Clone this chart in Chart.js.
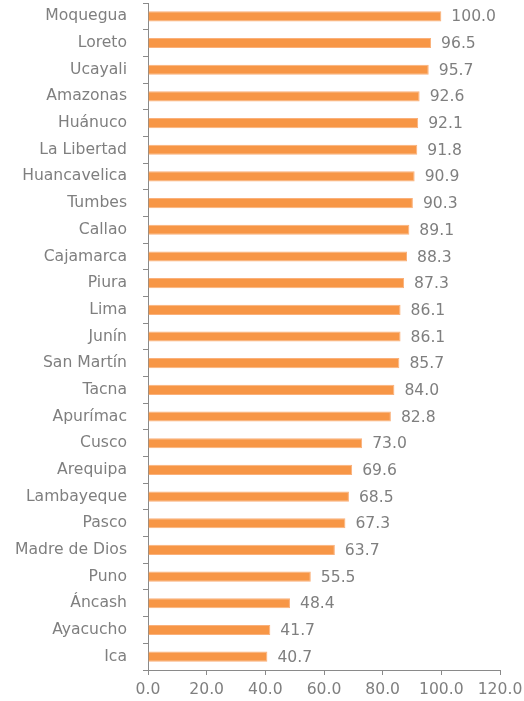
<!DOCTYPE html>
<html>
<head>
<meta charset="utf-8">
<script src="https://cdn.jsdelivr.net/npm/chart.js@4"></script>
<style>
  html, body { margin: 0; padding: 0; background: #fff; }
  #wrap { width: 524px; height: 701px; }
</style>
</head>
<body>
<div id="wrap"><canvas id="chart"></canvas></div>
<script>
const regions = ["Moquegua", "Loreto", "Ucayali", "Amazonas", "Huánuco", "La Libertad", "Huancavelica",
    "Tumbes", "Callao", "Cajamarca", "Piura", "Lima", "Junín", "San Martín", "Tacna", "Apurímac",
    "Cusco", "Arequipa", "Lambayeque", "Pasco", "Madre de Dios", "Puno", "Áncash", "Ayacucho", "Ica"];
const values = [100.0, 96.5, 95.7, 92.6, 92.1, 91.8, 90.9, 90.3, 89.1, 88.3, 87.3, 86.1, 86.1, 85.7,
    84.0, 82.8, 73.0, 69.6, 68.5, 67.3, 63.7, 55.5, 48.4, 41.7, 40.7];
const xTicks = [0, 20, 40, 60, 80, 100, 120];

const gray = "#7f7f7f";
const axisGray = "#8a8a8a";
const font = { family: "'DejaVu Sans', Verdana, sans-serif", size: 15.6 };

// value labels at the end of each bar
const barLabels = {
    id: "barLabels",
    afterDatasetsDraw(chart) {
        const ctx = chart.ctx;
        const meta = chart.getDatasetMeta(0);
        ctx.save();
        ctx.font = font.size + "px " + font.family;
        ctx.fillStyle = gray;
        ctx.textAlign = "left";
        ctx.textBaseline = "middle";
        meta.data.forEach((bar, i) => {
            ctx.fillText(values[i].toFixed(1), bar.x + 10, bar.y + 1);
        });
        ctx.restore();
    }
};

new Chart(document.getElementById("chart"), {
    type: "bar",
    data: {
        labels: regions,
        datasets: [{
            data: values,
            backgroundColor: "#f79646",
            borderColor: "#fab07a",
            borderWidth: 1,
            categoryPercentage: 1,
            barPercentage: 0.38
        }]
    },
    options: {
        indexAxis: "y",
        responsive: true,
        maintainAspectRatio: false,
        animation: false,
        layout: { padding: { top: 3, right: 24, left: 0, bottom: 0 } },
        plugins: { legend: { display: false }, tooltip: { enabled: false } },
        scales: {
            x: {
                min: 0,
                max: 120,
                afterBuildTicks: s => { s.ticks = xTicks.map(v => ({ value: v })); },
                afterFit: s => { s.height = 31; s.paddingLeft = 0; s.paddingRight = 0; },
                border: { color: axisGray, width: 1 },
                grid: { drawOnChartArea: false, tickLength: 5, color: axisGray },
                ticks: { color: gray, font: font, padding: 6, maxRotation: 0,
                    callback: v => Number(v).toFixed(1) }
            },
            y: {
                afterFit: s => { s.width = 148; s.paddingTop = 0; s.paddingBottom = 0; },
                border: { color: axisGray, width: 1 },
                grid: { drawOnChartArea: false, tickLength: 5, color: axisGray, offset: true },
                ticks: { color: gray, font: font, padding: 16, autoSkip: false }
            }
        }
    },
    plugins: [barLabels]
});
</script>
</body>
</html>
